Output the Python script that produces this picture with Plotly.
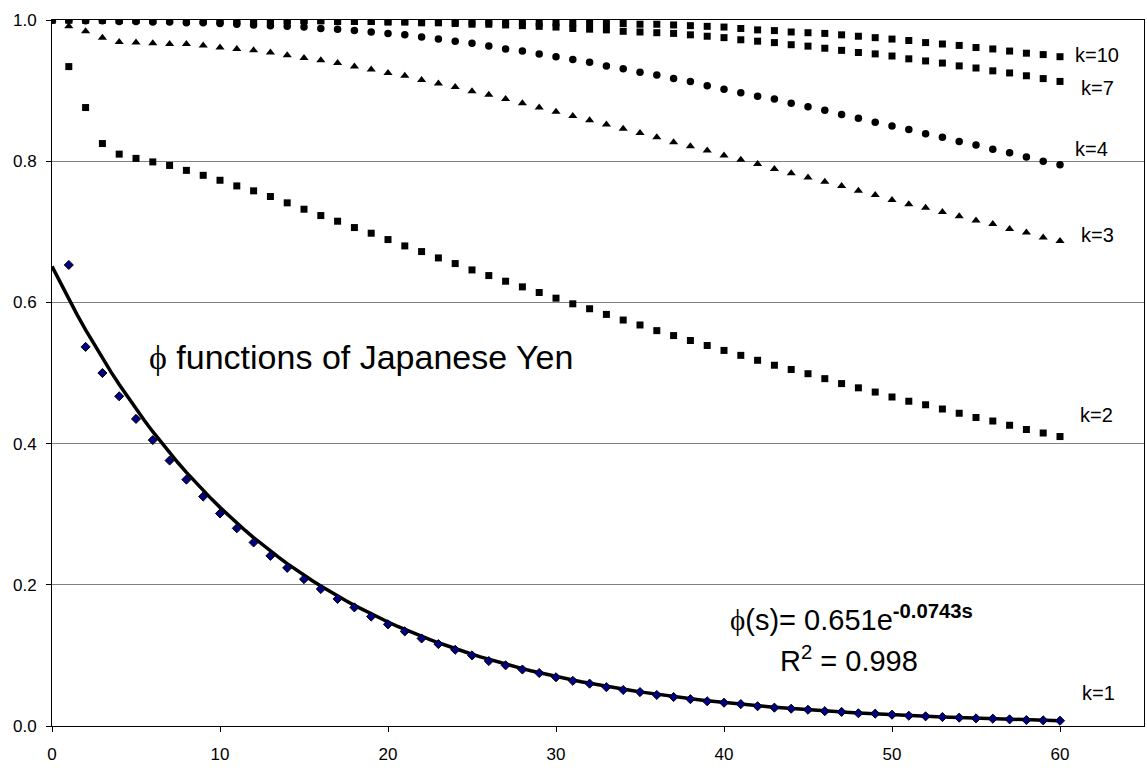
import math
import plotly.graph_objects as go

# s values
s_all = list(range(0, 61))
s_k1 = list(range(1, 61))

k1 = [0.653, 0.537, 0.500, 0.467, 0.435, 0.405, 0.376, 0.349, 0.325, 0.301,
      0.280, 0.260, 0.241, 0.224, 0.208, 0.194, 0.180, 0.168, 0.155, 0.144,
      0.134, 0.124, 0.116, 0.108, 0.100, 0.092, 0.086, 0.080, 0.075, 0.069,
      0.064, 0.060, 0.055, 0.051, 0.048, 0.044, 0.041, 0.038, 0.035, 0.033,
      0.031, 0.028, 0.026, 0.0245, 0.023, 0.021, 0.020, 0.018, 0.0175, 0.016,
      0.0146, 0.0137, 0.0127, 0.0118, 0.0108, 0.0104, 0.0094, 0.0085, 0.008, 0.0075]

k2 = [1.000, 0.934, 0.876, 0.825, 0.810, 0.804, 0.799, 0.794, 0.787, 0.780,
      0.773, 0.765, 0.758, 0.750, 0.741, 0.732, 0.723, 0.715, 0.706, 0.698,
      0.689, 0.680, 0.672, 0.663, 0.655, 0.646, 0.638, 0.630, 0.622, 0.614,
      0.606, 0.598, 0.591, 0.583, 0.575, 0.568, 0.560, 0.553, 0.546, 0.539,
      0.532, 0.525, 0.518, 0.511, 0.505, 0.499, 0.492, 0.485, 0.479, 0.473,
      0.466, 0.460, 0.455, 0.449, 0.443, 0.437, 0.432, 0.426, 0.420, 0.415, 0.410]

k3 = [1.000, 0.991, 0.984, 0.975, 0.969, 0.968, 0.967, 0.966, 0.966, 0.964,
      0.961, 0.959, 0.957, 0.954, 0.950, 0.946, 0.943, 0.939, 0.934, 0.930,
      0.925, 0.921, 0.915, 0.910, 0.905, 0.899, 0.894, 0.888, 0.882, 0.876,
      0.870, 0.864, 0.858, 0.852, 0.846, 0.840, 0.834, 0.827, 0.821, 0.815,
      0.808, 0.802, 0.796, 0.789, 0.783, 0.777, 0.771, 0.765, 0.758, 0.752,
      0.745, 0.739, 0.734, 0.728, 0.722, 0.716, 0.711, 0.704, 0.699, 0.692, 0.687]

k4 = [1.000, 1.000, 0.999, 0.999, 0.998, 0.998, 0.997, 0.997, 0.996, 0.996,
      0.995, 0.994, 0.993, 0.992, 0.991, 0.990, 0.988, 0.987, 0.985, 0.983,
      0.981, 0.979, 0.976, 0.973, 0.970, 0.967, 0.963, 0.959, 0.956, 0.952,
      0.948, 0.944, 0.940, 0.935, 0.931, 0.926, 0.922, 0.917, 0.913, 0.907,
      0.902, 0.897, 0.892, 0.888, 0.882, 0.877, 0.872, 0.866, 0.861, 0.855,
      0.850, 0.845, 0.839, 0.834, 0.828, 0.823, 0.817, 0.812, 0.806, 0.800, 0.795]

k7 = [1.000, 1.000, 1.000, 1.000, 1.000, 1.000, 1.000, 1.000, 0.999, 0.999,
      0.999, 0.999, 0.999, 0.999, 0.999, 0.999, 0.999, 0.998, 0.998, 0.998,
      0.997, 0.997, 0.996, 0.996, 0.995, 0.994, 0.994, 0.993, 0.992, 0.991,
      0.990, 0.988, 0.987, 0.986, 0.984, 0.983, 0.982, 0.981, 0.979, 0.977,
      0.975, 0.972, 0.970, 0.968, 0.965, 0.963, 0.960, 0.957, 0.954, 0.952,
      0.949, 0.945, 0.942, 0.939, 0.935, 0.932, 0.928, 0.925, 0.921, 0.917, 0.913]

k10 = [1.000, 1.000, 1.000, 1.000, 1.000, 1.000, 1.000, 1.000, 1.000, 0.999,
       0.999, 0.999, 0.999, 0.999, 0.999, 0.999, 0.999, 0.998, 0.998, 0.998,
       0.998, 0.998, 0.998, 0.997, 0.997, 0.997, 0.997, 0.997, 0.996, 0.996,
       0.996, 0.996, 0.996, 0.995, 0.995, 0.994, 0.994, 0.993, 0.992, 0.991,
       0.990, 0.988, 0.986, 0.985, 0.983, 0.982, 0.981, 0.979, 0.977, 0.975,
       0.973, 0.971, 0.968, 0.966, 0.964, 0.961, 0.959, 0.956, 0.953, 0.951, 0.948]

# exponential trendline coefficients shown on the chart
fit_a = 0.651
fit_b = -0.0743
fit_s = [i * 0.5 for i in range(0, 121)]
fit_y = [fit_a * math.exp(fit_b * s) for s in fit_s]

x_ticks = [0, 10, 20, 30, 40, 50, 60]
y_ticks = [0.0, 0.2, 0.4, 0.6, 0.8, 1.0]
y_tick_text = ["0.0", "0.2", "0.4", "0.6", "0.8", "1.0"]

labels = ["k=10", "k=7", "k=4", "k=3", "k=2", "k=1"]
label_x = [60.77, 61.13, 60.77, 61.13, 61.07, 61.19]
label_y = [0.951, 0.904, 0.817, 0.695, 0.4405, 0.0467]

FONT = "Liberation Sans, Arial, sans-serif"

fig = go.Figure()

fig.add_trace(go.Scatter(x=fit_s, y=fit_y, mode="lines",
                         line=dict(color="black", width=3.5), hoverinfo="skip"))
fig.add_trace(go.Scatter(x=s_k1, y=k1, mode="markers",
                         marker=dict(symbol="diamond", size=7, color="#000080",
                                     line=dict(color="black", width=1))))
fig.add_trace(go.Scatter(x=s_all, y=k2, mode="markers",
                         marker=dict(symbol="square", size=7, color="black", line=dict(width=0))))
fig.add_trace(go.Scatter(x=s_all, y=k3, mode="markers",
                         marker=dict(symbol="triangle-up", size=8, color="black", line=dict(width=0))))
fig.add_trace(go.Scatter(x=s_all, y=k4, mode="markers",
                         marker=dict(symbol="circle", size=7.5, color="black", line=dict(width=0))))
fig.add_trace(go.Scatter(x=s_all, y=k7, mode="markers",
                         marker=dict(symbol="square", size=7, color="black", line=dict(width=0))))
fig.add_trace(go.Scatter(x=s_all, y=k10, mode="markers",
                         marker=dict(symbol="square", size=7, color="black", line=dict(width=0))))

annotations = []
for t, lx, ly in zip(labels, label_x, label_y):
    annotations.append(dict(x=lx, y=ly, xref="x", yref="y", text=t, showarrow=False,
                            xanchor="left", yanchor="middle",
                            font=dict(family=FONT, size=20, color="black")))

annotations.append(dict(x=5.64, y=0.5227, xref="x", yref="y",
                        text="<span style='font-family:Liberation Serif'>ϕ</span> functions of Japanese Yen",
                        showarrow=False, xanchor="left", yanchor="middle",
                        font=dict(family=FONT, size=34, color="black")))
annotations.append(dict(x=40.24, y=0.153, xref="x", yref="y",
                        text="<span style='font-family:Liberation Serif'>ϕ</span>(s)= 0.651e<sup><b>-0.0743s</b></sup>",
                        showarrow=False, xanchor="left", yanchor="middle",
                        font=dict(family=FONT, size=29, color="black")))
annotations.append(dict(x=43.2, y=0.0956, xref="x", yref="y",
                        text="R<sup>2</sup> = 0.998",
                        showarrow=False, xanchor="left", yanchor="middle",
                        font=dict(family=FONT, size=29, color="black")))

fig.update_layout(
    width=1147, height=768,
    margin=dict(l=52, r=3, t=20, b=42),
    paper_bgcolor="white", plot_bgcolor="white",
    showlegend=False,
    annotations=annotations,
    xaxis=dict(range=[0, 65], tickvals=x_ticks, ticktext=[str(v) for v in x_ticks],
               showgrid=False, zeroline=False, showline=True, linecolor="black",
               linewidth=1, mirror=True, ticks="outside", ticklen=5, tickcolor="black",
               ticklabelstandoff=8,
               tickfont=dict(family=FONT, size=17, color="black")),
    yaxis=dict(range=[0, 1.0], tickvals=y_ticks, ticktext=y_tick_text,
               showgrid=True, gridcolor="#808080", gridwidth=1,
               zeroline=False, showline=True, linecolor="black",
               linewidth=1, mirror=True, ticks="outside", ticklen=5, tickcolor="black",
               ticklabelstandoff=6,
               tickfont=dict(family=FONT, size=17, color="black")),
)

fig.write_html("out.html")
